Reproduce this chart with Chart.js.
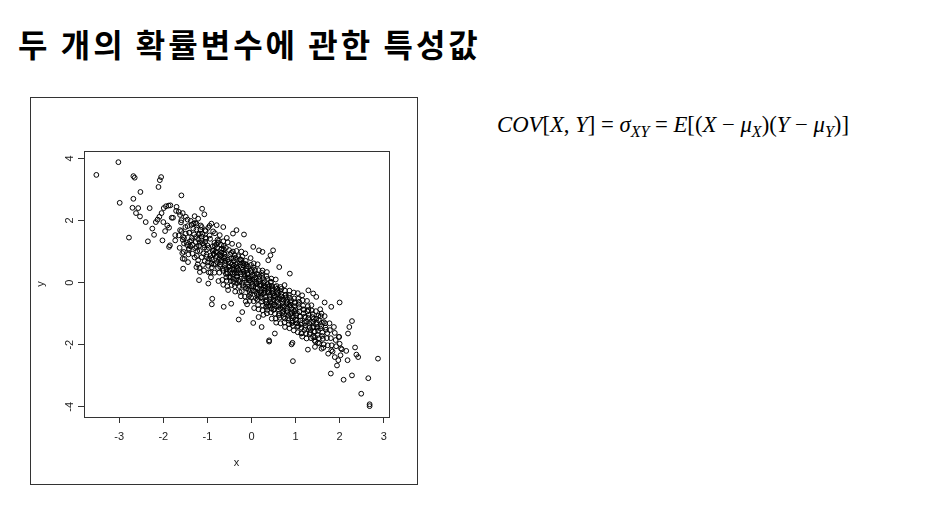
<!DOCTYPE html>
<html>
<head>
<meta charset="utf-8">
<script src="https://cdn.jsdelivr.net/npm/chart.js@4.4.0/dist/chart.umd.min.js"></script>
<style>
  body { margin: 0; width: 949px; height: 507px; background: #fff; position: relative; overflow: hidden; }
  #title { position: absolute; left: 18px; top: 20px; font-family: "Noto Sans CJK KR"; font-weight: bold; font-size: 32px; letter-spacing: 3px; color: #000; white-space: nowrap; }
  #frame { position: absolute; left: 30px; top: 97px; width: 386px; height: 386px; border: 1px solid #333; }
  #myChart { position: absolute; left: 0; top: 0; }
  #formula { position: absolute; left: 497px; top: 112px; font-family: "Liberation Serif"; font-size: 22.7px; color: #000; white-space: nowrap; }
  #formula i { font-style: italic; }
  #formula sub { font-size: 16px; vertical-align: -5px; line-height: 0; }
</style>
</head>
<body>
<div id="title">두 개의 확률변수에 관한 특성값</div>
<div id="frame"><canvas id="myChart" width="386" height="386"></canvas></div>
<div id="formula"><i>COV</i>[<i>X</i>, <i>Y</i>] = <i>σ</i><sub><i>XY</i></sub> = <i>E</i>[(<i>X</i> − <i>μ</i><sub><i>X</i></sub>)(<i>Y</i> − <i>μ</i><sub><i>Y</i></sub>)]</div>
<script>
// tick labels (R style)
const xTicks = [-3, -2, -1, 0, 1, 2, 3];
const yTicks = [-4, -2, 0, 2, 4];

// points: left tail / upper edge
const leftPts = [
  [-3.52,3.47],[-3.02,3.88],[-2.99,2.57],[-2.78,1.45],[-2.68,3.43],[-2.65,3.38],[-2.68,2.70],[-2.70,2.41],
  [-2.57,2.40],[-2.62,2.24],[-2.52,2.92],[-2.53,2.13],[-2.31,2.40],[-2.40,1.95],[-2.35,1.33],[-2.21,1.54],
  [-2.25,1.74],[-2.17,1.95],[-2.13,2.03],[-2.11,3.08],[-2.08,3.30],[-2.05,3.40],[-2.09,2.12],[-2.04,2.24],
  [-1.99,2.40],[-1.94,2.46],[-1.88,2.48],[-1.84,2.49],[-2.00,1.95],[-2.02,1.36],[-1.96,1.66],[-1.91,1.84],
  [-1.87,1.77],[-1.81,2.09],[-1.78,2.09],[-1.85,1.20],[-1.87,1.15],[-1.73,1.53],[-1.73,1.36],[-1.70,2.44],
  [-1.71,2.31],[-1.65,2.28],[-1.59,2.81],[-1.56,2.24],[-1.59,2.01],[-1.62,1.69],[-1.55,1.47],[-1.53,1.26],
  [-1.56,0.77],[-1.55,0.45],[-1.49,2.12],[-1.45,1.82],[-1.41,1.60],[-1.42,1.10],[-1.36,1.36],[-1.32,1.90],
  [-1.29,2.14],[-1.28,1.92],[-1.25,1.71],[-1.25,1.15],[-1.21,2.06],[-1.17,1.58],[-1.13,1.79],[-1.12,2.38],
  [-1.07,2.20],[-1.19,0.08],[-1.17,0.34],[-1.21,0.72],[-1.25,0.50],[-0.91,1.90],[-0.98,1.77],[-0.79,1.85],
  [-0.64,1.79],[-0.42,1.58],[-0.34,1.69],[-0.17,1.55],[0.04,1.15],[0.17,1.04],[0.25,0.99],[0.38,0.72],
  [0.43,0.88],[0.49,1.04],[0.63,0.50],[0.87,0.29],
  [-0.89,-0.52],[-0.90,-0.70],[-0.98,-0.03],[-0.63,-0.78],[-0.46,-0.68],[-0.29,-1.19],[-0.21,-0.95],[-0.10,-0.70]
];

// right tail / lower edge
const rightPts = [
  [0.04,-1.30],[0.16,-1.11],[0.23,-1.43],[0.40,-1.90],[0.40,-1.86],[0.53,-1.64],[0.91,-1.99],[0.93,-1.94],
  [0.94,-2.53],[1.13,-1.64],[1.28,-2.16],[1.40,-1.75],[1.43,-1.86],[1.44,-2.07],[1.51,-1.94],[1.59,-2.13],
  [1.63,-2.10],[1.74,-2.29],[1.81,-2.18],[1.80,-2.93],[1.89,-2.40],[1.94,-2.67],[1.97,-2.50],[2.02,-2.34],
  [2.00,-1.97],[1.99,-1.75],[2.05,-2.15],[2.09,-3.13],[2.00,-0.64],[2.15,-2.20],[2.18,-2.50],[2.19,-1.64],
  [2.22,-1.43],[2.28,-1.24],[2.28,-2.99],[2.35,-2.09],[2.38,-2.32],[2.42,-2.40],[2.49,-3.58],[2.65,-3.08],
  [2.68,-3.92],[2.68,-3.98],[2.87,-2.45],[1.81,-0.78],[1.66,-0.64],[1.59,-1.00],[1.47,-0.46],[1.40,-0.35],
  [1.29,-0.25]
];

// dense middle of the cloud (estimated)
const corePts = [
  [-1.63,1.12],[-1.59,1.66],[-1.6,1.94],[-1.56,1.38],[-1.62,2.18],[-1.57,0.95],[-1.65,1.52],
  [-1.53,1.44],[-1.46,1.21],[-1.5,1.79],[-1.54,0.99],[-1.45,2.03],[-1.47,1.29],[-1.52,0.76],[-1.49,1.58],
  [-1.41,1.61],[-1.39,1.17],[-1.43,0.91],[-1.36,1.86],[-1.42,1.06],[-1.35,1.44],[-1.38,1.99],[-1.44,0.66],[-1.4,1.33],
  [-1.32,1.74],[-1.27,1.31],[-1.34,0.93],[-1.28,1.11],[-1.3,1.55],[-1.25,1.9],[-1.29,0.81],[-1.33,1.21],[-1.26,1.47],
  [-1.21,1.39],[-1.19,1.19],[-1.22,0.59],[-1.16,1.71],[-1.24,0.86],[-1.17,1.29],[-1.18,0.47],[-1.23,1.02],[-1.15,1.84],[-1.2,1.55],
  [-1.11,1.27],[-1.09,0.94],[-1.12,1.57],[-1.06,0.69],[-1.14,1.36],[-1.07,1.13],[-1.08,0.39],[-1.13,0.82],[-1.05,1.69],[-1.1,0.57],[-1.04,1.45],
  [-1.01,1.07],[-0.98,0.54],[-1.03,1.41],[-0.96,0.77],[-1.04,1.66],[-0.97,0.33],[-1.0,1.2],[-1.02,0.9],[-0.95,1.83],[-0.99,0.65],[-1.05,1.31],
  [-0.91,0.62],[-0.88,1.17],[-0.93,0.33],[-0.86,0.93],[-0.94,1.41],[-0.89,0.74],[-0.87,1.65],[-0.92,0.17],[-0.85,1.05],[-0.9,0.49],[-0.84,1.28],[-0.93,0.86],
  [-0.78,1.12],[-0.82,0.6],[-0.77,1.38],[-0.84,0.32],[-0.79,0.85],[-0.75,0.05],[-0.81,1.0],[-0.83,1.59],[-0.76,0.47],[-0.8,1.23],[-0.74,0.73],[-0.85,0.91],
  [-0.71,0.58],[-0.67,1.1],[-0.73,0.32],[-0.69,0.87],[-0.66,0.09],[-0.74,1.35],[-0.7,0.7],[-0.65,0.45],[-0.72,1.53],[-0.64,-0.07],[-0.68,0.97],[-0.73,0.79],[-0.69,1.22],
  [-0.62,0.78],[-0.58,0.28],[-0.63,1.07],[-0.56,0.06],[-0.6,0.63],[-0.57,0.44],[-0.64,1.33],[-0.61,0.9],[-0.55,-0.12],[-0.59,0.71],[-0.57,0.17],[-0.63,1.18],[-0.6,0.55],
  [-0.53,-0.24],[-0.47,0.05],[-0.55,0.29],[-0.49,0.52],[-0.46,0.78],[-0.51,1.05],[-0.54,1.3],[-0.45,-0.08],[-0.5,0.41],[-0.52,0.67],[-0.48,0.91],[-0.56,1.44],[-0.47,0.17],[-0.44,0.59],
  [-0.42,1.0],[-0.38,-0.12],[-0.36,0.59],[-0.43,0.25],[-0.41,0.78],[-0.35,0.1],[-0.39,0.42],[-0.44,1.25],[-0.37,-0.29],[-0.4,0.7],[-0.34,0.51],[-0.43,0.33],[-0.38,0.88],[-0.41,0.02],
  [-0.27,-0.3],[-0.33,0.47],[-0.29,0.07],[-0.26,0.75],[-0.31,0.3],[-0.34,1.02],[-0.28,-0.11],[-0.25,0.58],[-0.32,0.19],[-0.3,0.85],[-0.24,-0.44],[-0.35,0.39],[-0.29,1.21],[-0.33,-0.02],
  [-0.18,0.55],[-0.22,-0.28],[-0.16,0.27],[-0.21,0.0],[-0.24,0.74],[-0.15,-0.45],[-0.2,0.42],[-0.23,1.0],[-0.17,0.14],[-0.19,0.63],[-0.14,-0.14],[-0.25,0.33],[-0.13,-0.61],[-0.21,0.84],
  [-0.08,-0.05],[-0.12,0.38],[-0.06,-0.43],[-0.13,0.7],[-0.1,0.13],[-0.07,-0.22],[-0.11,0.57],[-0.04,-0.59],[-0.09,0.27],[-0.14,0.94],[-0.05,0.06],[-0.12,0.46],[-0.08,-0.13],[-0.15,0.21],
  [0.02,0.24],[-0.03,-0.39],[-0.01,0.57],[0.04,-0.11],[-0.04,0.07],[0.05,-0.6],[0.01,0.41],[0.03,-0.25],[-0.02,0.79],[-0.05,0.15],[0.06,-0.82],[0.0,0.33],[0.02,-0.04],[-0.01,-0.48],
  [0.12,-0.36],[0.07,0.09],[0.13,-0.55],[0.08,0.41],[0.1,-0.17],[0.06,0.25],[0.15,-0.72],[0.11,-0.04],[0.05,0.62],[0.09,-0.28],[0.16,-0.86],[0.08,0.17],[0.14,-0.45],[0.11,0.01],
  [0.18,0.11],[0.22,-0.33],[0.16,0.4],[0.24,-0.61],[0.19,-0.1],[0.25,-0.89],[0.17,0.02],[0.21,-0.48],[0.15,0.26],[0.23,-0.24],[0.14,0.59],[0.26,-0.74],[0.2,-0.05],[0.27,-1.04],
  [0.31,-0.46],[0.26,0.14],[0.33,-0.78],[0.28,-0.17],[0.32,-0.61],[0.25,0.39],[0.29,-0.34],[0.35,-0.99],[0.27,-0.02],[0.34,-0.69],[0.3,-0.26],[0.24,0.22],[0.36,-0.88],[0.28,-0.09],
  [0.38,-0.14],[0.42,-0.74],[0.4,-0.32],[0.44,-0.96],[0.36,0.12],[0.41,-0.53],[0.35,0.34],[0.46,-1.16],[0.37,-0.05],[0.43,-0.63],[0.39,-0.23],[0.45,-0.84],[0.41,-0.41],[0.34,0.21],
  [0.51,-0.71],[0.46,-0.11],[0.53,-1.0],[0.48,-0.35],[0.5,-0.56],[0.45,0.13],[0.55,-1.16],[0.47,-0.27],[0.52,-0.85],[0.44,0.0],[0.49,-0.62],[0.51,-0.44],[0.56,-1.29],[0.47,-0.18],
  [0.58,-0.38],[0.62,-0.87],[0.57,-0.11],[0.64,-1.13],[0.6,-0.52],[0.61,-0.69],[0.55,0.1],[0.66,-1.31],[0.59,-0.29],[0.63,-1.0],[0.56,-0.46],[0.61,-0.78],[0.58,-0.2],
  [0.71,-0.73],[0.67,-0.36],[0.73,-1.11],[0.66,-0.14],[0.72,-0.92],[0.69,-0.54],[0.75,-1.28],[0.7,-0.63],[0.65,-0.27],[0.71,-0.81],[0.76,-1.43],[0.68,-0.45],[0.74,-1.01],
  [0.78,-0.48],[0.82,-0.95],[0.76,-0.26],[0.83,-1.15],[0.8,-0.67],[0.85,-1.34],[0.77,-0.41],[0.81,-0.84],[0.75,-0.08],[0.84,-1.05],[0.79,-0.58],[0.86,-1.47],
  [0.91,-0.98],[0.87,-0.49],[0.93,-1.22],[0.89,-0.72],[0.94,-1.39],[0.86,-0.26],[0.92,-1.08],[0.9,-0.81],[0.96,-1.54],[0.88,-0.63],[0.93,-1.29],[0.85,-0.4],
  [0.98,-0.76],[1.02,-1.22],[0.97,-0.51],[1.04,-1.42],[1.0,-0.87],[1.01,-1.05],[0.96,-0.32],[1.05,-1.6],[0.99,-0.66],[1.03,-1.31],[0.98,-0.93],
  [1.11,-1.22],[1.07,-0.71],[1.13,-1.45],[1.09,-0.93],[1.14,-1.63],[1.06,-0.52],[1.1,-1.1],[1.08,-0.8],[1.12,-1.35],[1.05,-0.34],[1.15,-1.74],
  [1.18,-0.99],[1.22,-1.46],[1.17,-0.74],[1.24,-1.64],[1.2,-1.1],[1.21,-1.29],[1.16,-0.57],[1.25,-1.8],[1.19,-0.88],[1.23,-1.38],[1.15,-0.41],
  [1.31,-1.31],[1.27,-0.93],[1.33,-1.62],[1.28,-0.76],[1.32,-1.44],[1.29,-1.14],[1.35,-1.79],[1.3,-1.04],[1.34,-1.53],[1.26,-0.59],
  [1.38,-1.11],[1.42,-1.57],[1.37,-0.9],[1.44,-1.76],[1.4,-1.26],[1.41,-1.43],[1.36,-0.73],[1.45,-1.9],[1.39,-1.01],
  [1.51,-1.55],[1.47,-1.16],[1.53,-1.79],[1.46,-0.92],[1.5,-1.44],[1.54,-1.96],[1.48,-1.28],[1.52,-1.07],
  [1.58,-1.4],[1.62,-1.81],[1.57,-1.08],[1.64,-1.99],[1.6,-1.29],[1.61,-1.61],[1.56,-0.86],
  [1.71,-1.79],[1.67,-1.31],[1.73,-2.02],[1.69,-1.52],[1.66,-1.08],[1.72,-1.63],
  [1.78,-1.53],[1.82,-2.02],[1.77,-1.31],[1.8,-1.79],[1.84,-2.22],
  [1.89,-1.62],[1.92,-2.05],[1.87,-1.43],[1.91,-1.85],
  [1.98,-1.75],[2.03,-2.12]
];

// extra points where the cloud is darkest
const coreExtra = [
  [-1.17,1.02],[-1.13,1.48],[-1.08,1.21],[-1.02,0.83],[-0.97,1.12],[-0.95,1.52],[-0.91,0.79],[-0.88,1.02],
  [-0.86,0.58],[-0.83,1.18],[-0.8,0.97],[-0.78,0.66],[-0.76,1.29],[-0.73,0.9],[-0.71,0.51],[-0.69,1.06],
  [-0.67,0.72],[-0.64,0.38],[-0.62,0.95],[-0.6,0.83],[-0.58,1.12],[-0.56,0.34],[-0.54,0.74],[-0.52,0.5],
  [-0.5,0.19],[-0.48,0.62],[-0.46,0.96],[-0.44,0.43],[-0.42,0.12],[-0.4,0.55],[-0.38,0.31],[-0.36,0.8],
  [-0.34,0.2],[-0.32,0.62],[-0.3,0.41],[-0.28,0.02],[-0.26,0.66],[-0.24,0.27],[-0.22,0.5],[-0.2,-0.09],
  [-0.18,0.35],[-0.16,0.08],[-0.14,0.6],[-0.12,-0.19],[-0.1,0.3],[-0.08,0.52],[-0.06,0.12],[-0.04,-0.31],
  [-0.02,0.38],[0.0,-0.12],[0.02,0.1],[0.04,0.49],[0.06,-0.27],[0.08,0.03],[0.1,-0.5],[0.12,0.28],
  [0.14,-0.18],[0.16,-0.39],[0.18,0.2],[0.2,-0.3],[0.22,-0.08],[0.24,0.31],[0.26,-0.52],[0.28,-0.33],
  [0.3,0.05],[0.32,-0.12],[0.34,-0.56],[0.36,-0.3],[0.38,-0.78],[0.4,-0.11],[0.42,-0.46],[0.44,0.03],
  [0.46,-0.66],[0.48,-0.23],[0.5,-0.88],[0.52,-0.42],[0.54,-0.14],[0.56,-0.77],[0.58,-0.6],[0.6,-0.33],
  [0.62,-1.06],[0.64,-0.51],[0.66,-0.82],[0.68,-0.2],[0.7,-0.98],[0.72,-0.55],[0.74,-0.77],[0.76,-1.16],
  [0.78,-0.39],[0.8,-0.91],[0.82,-0.63],[0.84,-1.22],[0.86,-0.74],[0.88,-1.01],[0.9,-0.57],[0.92,-1.3],
  [0.94,-0.88],[0.96,-1.12],[0.98,-0.63],[1.0,-1.19],[1.03,-0.98],[1.06,-1.4],[1.08,-0.62],[1.11,-1.09],
  [1.14,-1.3],[1.17,-0.86],[1.2,-1.53],[1.23,-1.12],[1.26,-1.26],[1.29,-0.88],[1.32,-1.66],[1.35,-1.27],
  [1.38,-1.45],[1.41,-1.17],[1.44,-1.58],[1.47,-1.34],[1.5,-1.69],[1.53,-1.21],[1.56,-1.48],[1.6,-1.72],
  [1.64,-1.27],[1.68,-1.45]
];

const allPts = leftPts.concat(corePts, coreExtra, rightPts).map(function(p) { return { x: p[0], y: p[1] }; });

// plot box + rotated y tick labels like base R
const rStyle = {
  id: 'rStyle',
  afterDraw(chart) {
    const ctx = chart.ctx;
    const a = chart.chartArea;
    ctx.save();
    ctx.strokeStyle = '#333';
    ctx.lineWidth = 1;
    ctx.strokeRect(Math.round(a.left) + 0.5, Math.round(a.top) + 0.5, Math.round(a.right - a.left), Math.round(a.bottom - a.top));
    const ys = chart.scales.y;
    ctx.fillStyle = '#222';
    ctx.font = '11px "Liberation Sans"';
    ctx.textAlign = 'center';
    ctx.textBaseline = 'middle';
    yTicks.forEach(function(v) {
      const py = ys.getPixelForValue(v);
      ctx.save();
      ctx.translate(39, py);
      ctx.rotate(-Math.PI / 2);
      ctx.fillText(String(v), 0, 0);
      ctx.restore();
    });
    ctx.restore();
  }
};

const ctx = document.getElementById('myChart').getContext('2d');
const myChart = new Chart(ctx, {
  type: 'scatter',
  data: {
    datasets: [{
      data: allPts,
      pointStyle: 'circle',
      pointRadius: 2.4,
      pointBorderWidth: 1,
      borderColor: '#000',
      backgroundColor: 'transparent'
    }]
  },
  options: {
    responsive: false,
    animation: false,
    layout: { padding: { top: 53, right: 28, left: 0, bottom: 0 } },
    plugins: { legend: { display: false }, tooltip: { enabled: false } },
    scales: {
      x: {
        type: 'linear', min: -3.8, max: 3.12,
        afterBuildTicks: function(s) { s.ticks = xTicks.map(function(v) { return { value: v }; }); },
        afterFit: function(s) { s.height = 67; },
        grid: { drawOnChartArea: false, drawTicks: true, tickLength: 6, color: '#333' },
        border: { display: false },
        ticks: { font: { family: 'Liberation Sans', size: 11 }, color: '#222', padding: 7, maxRotation: 0 },
        title: { display: true, text: 'x', font: { family: 'Liberation Sans', size: 11 }, color: '#222', padding: { top: 0, bottom: 14 } }
      },
      y: {
        type: 'linear', min: -4.33, max: 4.24,
        afterBuildTicks: function(s) { s.ticks = yTicks.map(function(v) { return { value: v }; }); },
        afterFit: function(s) { s.width = 53; },
        grid: { drawOnChartArea: false, drawTicks: true, tickLength: 6, color: '#333' },
        border: { display: false },
        ticks: { color: 'transparent', font: { size: 11 } },
        title: { display: true, text: 'y', font: { family: 'Liberation Sans', size: 11 }, color: '#222', padding: { top: 3, bottom: 0 } }
      }
    }
  },
  plugins: [rStyle]
});
</script>
</body>
</html>
